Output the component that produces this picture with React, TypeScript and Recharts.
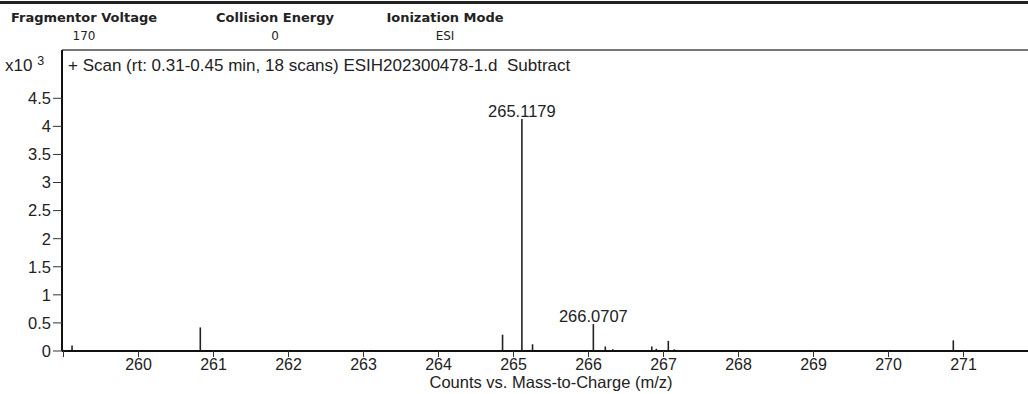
import React from 'react';
import { ComposedChart, Bar, XAxis, YAxis, LabelList } from 'recharts';

// peaks (m/z, counts in x10^3)
const mzValues = [259.12, 260.83, 263.11, 264.86, 265.1179, 265.26, 266.0707, 266.23, 266.33, 266.85, 266.91, 267.07, 267.15, 270.87];
const countValues = [0.1, 0.42, 0.02, 0.29, 4.13, 0.12, 0.48, 0.08, 0.03, 0.08, 0.04, 0.18, 0.03, 0.19];
const peakLabels = ['', '', '', '', '265.1179', '', '266.0707', '', '', '', '', '', '', ''];

const xTicks = [259, 260, 261, 262, 263, 264, 265, 266, 267, 268, 269, 270, 271];
const yTicks = [0, 0.5, 1, 1.5, 2, 2.5, 3, 3.5, 4, 4.5];

const headerNames = ['Fragmentor Voltage', 'Collision Energy', 'Ionization Mode'];
const headerValues = ['170', '0', 'ESI'];
const headerCenters = [84, 275, 445];

const data = mzValues.map((mz, i) => ({ mz, counts: countValues[i], label: peakLabels[i] }));

const font = '"Liberation Sans", Arial, sans-serif';

const App: React.FC = () => {
  return (
    <div style={{ position: 'absolute', left: 0, top: 0, width: 1028, height: 394, background: '#fff', overflow: 'hidden' }}>
      {/* header strip */}
      <div style={{ position: 'absolute', left: 0, top: 1, width: 1028, height: 3, background: '#222' }} />
      {headerNames.map((name, i) => (
        <div key={name} style={{ position: 'absolute', left: headerCenters[i] - 100, top: 9, width: 200, textAlign: 'center', fontFamily: '"DejaVu Sans", Verdana, sans-serif', color: '#222' }}>
          <div style={{ fontWeight: 'bold', fontSize: 13, lineHeight: '17px' }}>{name}</div>
          <div style={{ fontSize: 12, lineHeight: '20px' }}>{headerValues[i]}</div>
        </div>
      ))}
      <div style={{ position: 'absolute', left: 62, top: 49, width: 966, height: 2, background: '#777' }} />

      <div style={{ position: 'absolute', left: 5, top: 56, fontFamily: font, fontSize: 17, color: '#222' }}>
        x10 <span style={{ fontSize: 12.5, position: 'relative', top: -6 }}>3</span>
      </div>
      <div style={{ position: 'absolute', left: 68, top: 56, fontFamily: font, fontSize: 17, color: '#222', whiteSpace: 'pre' }}>
        + Scan (rt: 0.31-0.45 min, 18 scans) ESIH202300478-1.d  Subtract
      </div>

      <div style={{ position: 'absolute', left: 0, top: 0 }}>
        <ComposedChart width={1028} height={394} data={data} margin={{ top: 50, right: 0, bottom: 0, left: 0 }} barGap={0}>
          <XAxis
            type="number"
            dataKey="mz"
            domain={[258.98, 271.86]}
            ticks={xTicks}
            allowDataOverflow
            height={43}
            tickFormatter={(v: number) => (v === 259 ? '' : String(v))}
            axisLine={{ stroke: '#111', strokeWidth: 2 }}
            tickLine={{ stroke: '#333' }}
            tickSize={6}
            tick={{ fill: '#222', fontSize: 16, fontFamily: font }}
          />
          <YAxis
            type="number"
            domain={[0, 5.36]}
            ticks={yTicks}
            allowDataOverflow
            width={62}
            axisLine={{ stroke: '#111', strokeWidth: 2 }}
            tickLine={{ stroke: '#333' }}
            tickSize={9}
            tickMargin={2}
            tick={{ fill: '#222', fontSize: 16.5, fontFamily: font }}
          />
          <Bar dataKey="counts" fill="#222" barSize={1.6} isAnimationActive={false}>
            <LabelList dataKey="label" position="top" offset={2} fill="#222" fontSize={16.5} fontFamily={font} />
          </Bar>
        </ComposedChart>
      </div>

      <div style={{ position: 'absolute', left: 351, top: 373, width: 400, textAlign: 'center', fontFamily: font, fontSize: 16.5, color: '#222' }}>
        Counts vs. Mass-to-Charge (m/z)
      </div>
    </div>
  );
};

export default App;
